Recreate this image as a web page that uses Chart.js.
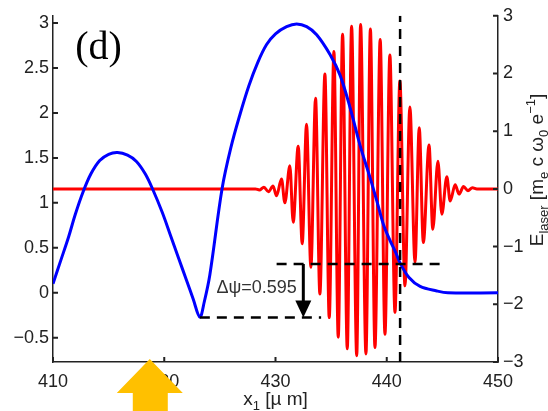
<!DOCTYPE html>
<html>
<head>
<meta charset="utf-8">
<script src="https://cdn.jsdelivr.net/npm/chart.js@4.4.0/dist/chart.umd.min.js"></script>
<style>
  html, body { margin: 0; padding: 0; background: #fff; }
  canvas { display: block; }
</style>
</head>
<body>
<canvas id="phase" width="548" height="411"></canvas>
<script>
// wake phase (left axis) and laser field (right axis) along x1
const xTicks = [410, 420, 430, 440, 450];
const psiTicks = [-0.5, 0, 0.5, 1, 1.5, 2, 2.5, 3];
const eTicks = [-3, -2, -1, 0, 1, 2, 3];

const blueX = [410.0, 410.7, 411.4, 412.0, 412.7, 413.4, 414.2, 415.0, 415.8, 416.7, 417.5, 418.3,
  419.0, 419.8, 420.5, 421.3, 422.0, 422.6, 423.2, 423.6, 424.1, 425.2, 426.0, 426.8, 427.6,
  428.4, 429.2, 430.0, 431.0, 431.9, 432.8, 433.7, 434.9, 435.8, 436.7, 437.6, 438.5, 439.2,
  439.7, 440.3, 440.8, 441.2, 442.0, 443.0, 444.5, 445.5, 450.0];
const bluePsi = [0.10, 0.36, 0.62, 0.87, 1.12, 1.32, 1.47, 1.54, 1.56, 1.53, 1.46, 1.32,
  1.14, 0.90, 0.66, 0.38, 0.14, -0.07, -0.27, -0.10, 0.20, 1.16, 1.62, 1.98, 2.30,
  2.56, 2.76, 2.88, 2.96, 2.99, 2.96, 2.87, 2.65, 2.42, 2.06, 1.64, 1.28, 0.98,
  0.76, 0.58, 0.45, 0.33, 0.17, 0.07, 0.02, 0.0, 0.0];

// turning points of the laser field
const laserX = [410.0, 428.2, 428.55, 428.96, 429.37, 429.78, 430.09, 430.54, 430.84, 431.29, 431.59,
  432.04, 432.40, 432.79, 433.18, 433.60, 433.99, 434.44, 434.83, 435.25, 435.64,
  436.03, 436.45, 436.84, 437.30, 437.65, 438.13, 438.53, 438.94, 439.41, 439.84,
  440.28, 440.74, 441.18, 441.64, 442.08, 442.54, 442.92, 443.29, 443.80, 444.14,
  444.60, 444.95, 445.40, 445.70, 446.15, 446.50, 446.90, 447.30, 447.70, 448.1, 450.0];
const laserE = [0, 0, -0.02, 0.03, -0.05, 0.05, -0.12, 0.17, -0.24, 0.40, -0.58,
  0.74, -0.95, 1.12, -1.36, 1.57, -1.82, 1.99, -2.23, 2.38, -2.57,
  2.68, -2.77, 2.82, -2.89, 2.85, -2.86, 2.77, -2.75, 2.59, -2.52,
  2.32, -2.14, 1.87, -1.68, 1.42, -1.27, 1.06, -0.93, 0.76, -0.70,
  0.48, -0.44, 0.21, -0.21, 0.07, -0.09, 0.04, -0.03, 0.02, 0, 0];

const psiLow = -0.275;
const dPsi = 0.595;
const psiHigh = psiLow + dPsi;
const lowDashX = [423.2, 434.1];
const highDashX = [430.1, 445.1];
const frontX = 441.2;
const arrowX = 432.5;
const psiMin = -0.77, psiMax = 3.08;

const pts = (xs, ys) => xs.map((x, i) => ({ x: x, y: ys[i] }));
const font = { family: 'Liberation Sans, Arial, sans-serif', size: 18 };
const ink = '#222';
const minus = v => String(v).replace('-', '\u2212');

function drawRich(ctx, parts, x, y) {
  // parts: [text, 'n' | 'sub' | 'sup']
  let w = 0;
  parts.forEach(p => {
    ctx.font = (p[1] === 'n' ? 19 : 13) + 'px Liberation Sans, Arial, sans-serif';
    p.w = ctx.measureText(p[0]).width;
    w += p.w;
  });
  let cx = x - w / 2;
  parts.forEach(p => {
    ctx.font = (p[1] === 'n' ? 19 : 13) + 'px Liberation Sans, Arial, sans-serif';
    const dy = p[1] === 'sub' ? 5 : p[1] === 'sup' ? -8 : 0;
    ctx.fillText(p[0], cx, y + dy);
    cx += p.w;
  });
}

const overlay = {
  id: 'overlay',
  afterDraw(chart) {
    const { ctx, chartArea: a, scales } = chart;
    const x = scales.x, y = scales.y, y2 = scales.y2;
    ctx.save();

    // inward tick marks
    ctx.strokeStyle = ink;
    ctx.lineWidth = 2;
    ctx.beginPath();
    xTicks.forEach(v => { const p = x.getPixelForValue(v); ctx.moveTo(p, a.bottom); ctx.lineTo(p, a.bottom - 5); });
    psiTicks.forEach(v => { const p = y.getPixelForValue(v); ctx.moveTo(a.left, p); ctx.lineTo(a.left + 5, p); });
    eTicks.forEach(v => { const p = y2.getPixelForValue(v); ctx.moveTo(a.right, p); ctx.lineTo(a.right - 5, p); });
    ctx.stroke();

    // phase slip arrow
    const ax = x.getPixelForValue(arrowX);
    const top = y.getPixelForValue(psiHigh);
    const bot = y.getPixelForValue(psiLow);
    ctx.strokeStyle = '#000';
    ctx.fillStyle = '#000';
    ctx.lineWidth = 3;
    ctx.beginPath();
    ctx.moveTo(ax, top);
    ctx.lineTo(ax, bot - 12);
    ctx.stroke();
    ctx.beginPath();
    ctx.moveTo(ax - 8, bot - 17);
    ctx.lineTo(ax + 8, bot - 17);
    ctx.lineTo(ax, bot);
    ctx.closePath();
    ctx.fill();

    ctx.fillStyle = '#333';
    ctx.font = '18px Liberation Sans, Arial, sans-serif';
    ctx.textAlign = 'center';
    ctx.textBaseline = 'middle';
    ctx.fillText('\u0394\u03c8=' + dPsi.toFixed(3), x.getPixelForValue(428.3), y.getPixelForValue(0.055));

    // panel letter
    ctx.fillStyle = '#000';
    ctx.font = '40px Liberation Serif, Times New Roman, serif';
    ctx.textAlign = 'left';
    ctx.fillText('(d)', x.getPixelForValue(412.0), y.getPixelForValue(2.72));

    // axis titles
    ctx.fillStyle = ink;
    ctx.textAlign = 'left';
    ctx.textBaseline = 'alphabetic';
    drawRich(ctx, [['x', 'n'], ['1', 'sub'], [' [\u00b5 m]', 'n']], (a.left + a.right) / 2, 405);

    ctx.save();
    ctx.translate(543, 170);
    ctx.rotate(-Math.PI / 2);
    drawRich(ctx, [['E', 'n'], ['laser', 'sub'], [' [m', 'n'], ['e', 'sub'], [' c \u03c9', 'n'],
      ['0', 'sub'], [' e', 'n'], ['\u22121', 'sup'], [']', 'n']], 0, 0);
    ctx.restore();

    // marker arrow below the x axis
    const tx = x.getPixelForValue(418.7);
    const ty = a.bottom - 3;
    ctx.fillStyle = '#FFC000';
    ctx.beginPath();
    ctx.moveTo(tx, ty);
    ctx.lineTo(tx + 33, ty + 34);
    ctx.lineTo(tx + 18, ty + 34);
    ctx.lineTo(tx + 18, chart.height);
    ctx.lineTo(tx - 17, chart.height);
    ctx.lineTo(tx - 17, ty + 34);
    ctx.lineTo(tx - 33, ty + 34);
    ctx.closePath();
    ctx.fill();

    ctx.restore();
  }
};

const dashed = (data) => ({
  data: data, yAxisID: 'y', showLine: true, borderColor: '#000', borderWidth: 2.5,
  borderDash: [10, 7], pointRadius: 0, tension: 0
});

const axisCommon = {
  grid: { display: false, drawTicks: false },
  border: { display: true, color: ink, width: 1.5 },
};

new Chart(document.getElementById('phase'), {
  type: 'scatter',
  data: {
    datasets: [
      dashed(pts(lowDashX, [psiLow, psiLow])),
      dashed(pts(highDashX, [psiHigh, psiHigh])),
      dashed(pts([frontX, frontX], [psiMin, psiMax])),
      {
        data: pts(blueX, bluePsi), yAxisID: 'y', showLine: true,
        borderColor: '#0000FF', borderWidth: 3, pointRadius: 0, tension: 0.35
      },
      {
        data: pts(laserX, laserE), yAxisID: 'y2', showLine: true,
        borderColor: '#FF0000', borderWidth: 3, pointRadius: 0,
        cubicInterpolationMode: 'monotone'
      }
    ]
  },
  options: {
    responsive: false,
    animation: false,
    devicePixelRatio: 1,
    layout: { padding: { top: 15, left: 0, right: 0, bottom: 0 } },
    plugins: { legend: { display: false }, tooltip: { enabled: false } },
    scales: {
      x: {
        type: 'linear', min: 410, max: 450, ...axisCommon,
        afterBuildTicks: s => { s.ticks = xTicks.map(v => ({ value: v })); },
        afterFit: s => { s.height = 49; },
        ticks: { font: font, color: ink, padding: 9, maxRotation: 0, autoSkip: false }
      },
      y: {
        type: 'linear', position: 'left', min: psiMin, max: psiMax, ...axisCommon,
        afterBuildTicks: s => { s.ticks = psiTicks.map(v => ({ value: v })); },
        afterFit: s => { s.width = 53; },
        ticks: { font: font, color: ink, padding: 4, autoSkip: false, callback: minus }
      },
      y2: {
        type: 'linear', position: 'right', min: -3, max: 3, ...axisCommon,
        afterBuildTicks: s => { s.ticks = eTicks.map(v => ({ value: v })); },
        afterFit: s => { s.width = 50; },
        ticks: { font: font, color: ink, padding: 5, autoSkip: false, callback: minus }
      }
    }
  },
  plugins: [overlay]
});
</script>
</body>
</html>
